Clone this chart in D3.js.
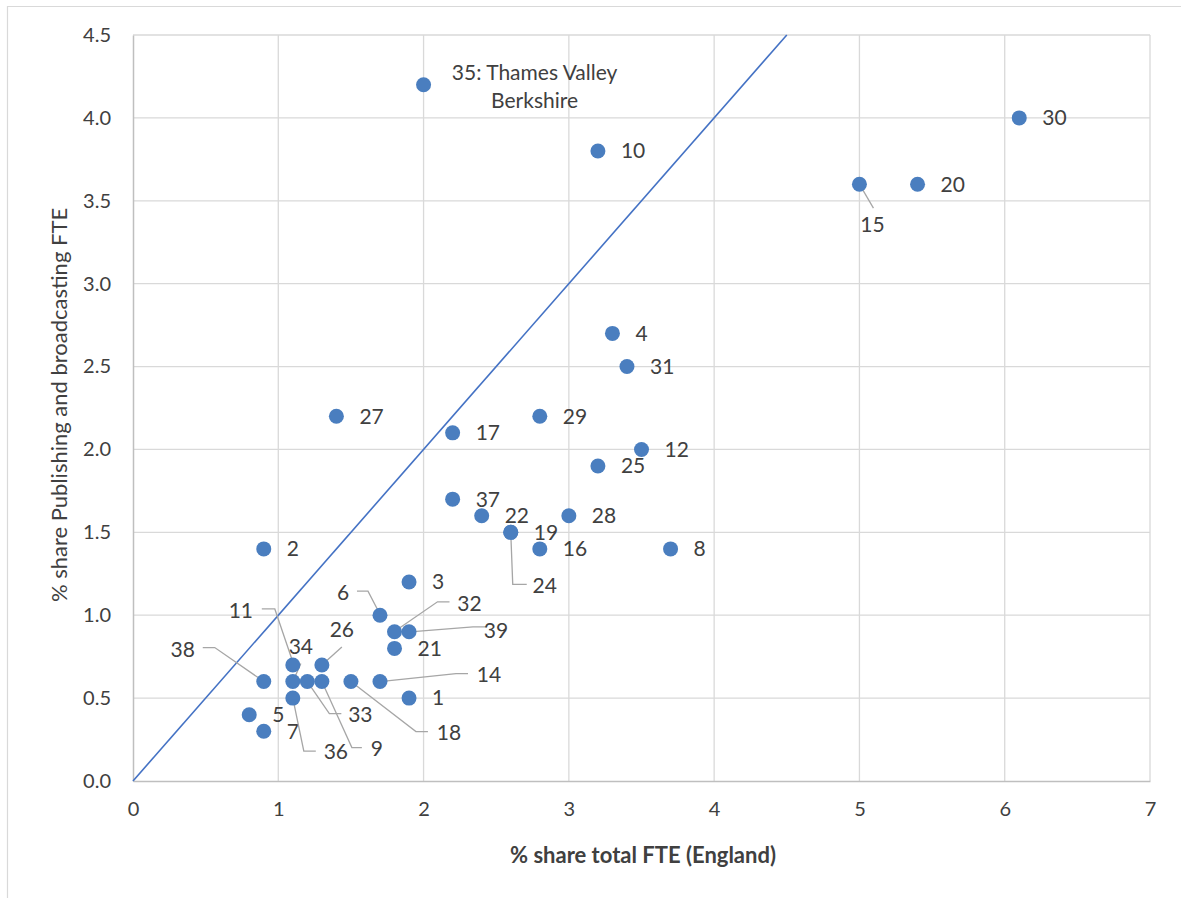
<!DOCTYPE html>
<html>
<head>
<meta charset="utf-8">
<script src="https://cdn.jsdelivr.net/npm/d3@7"></script>
<style>
  html, body { margin: 0; padding: 0; background: #fff; }
  svg { display: block; }
  text { font-family: Lato, "Open Sans", sans-serif; fill: #404040; }
</style>
</head>
<body>
<svg id="chart" width="1181" height="898"></svg>
<script>
// Region ids, share of total FTE (England) and share of publishing & broadcasting FTE
const regionIds = [1, 2, 3, 4, 5, 6, 7, 8, 9, 10, 11, 12, 14, 15, 16, 17, 18, 19, 20, 21,
                   22, 24, 25, 26, 27, 28, 29, 30, 31, 32, 33, 34, 35, 36, 37, 38, 39];
const shareTotal = [1.9, 0.9, 1.9, 3.3, 0.8, 1.7, 0.9, 3.7, 1.3, 3.2, 1.1, 3.5, 1.7, 5.0, 2.8, 2.2, 1.5, 2.6, 5.4, 1.8,
                    2.4, 2.6, 3.2, 1.3, 1.4, 3.0, 2.8, 6.1, 3.4, 1.8, 1.2, 1.1, 2.0, 1.1, 2.2, 0.9, 1.9];
const sharePublishing = [0.5, 1.4, 1.2, 2.7, 0.4, 1.0, 0.3, 1.4, 0.6, 3.8, 0.7, 2.0, 0.6, 3.6, 1.4, 2.1, 0.6, 1.5, 3.6, 0.8,
                         1.6, 1.5, 1.9, 0.7, 2.2, 1.6, 2.2, 4.0, 2.5, 0.9, 0.6, 0.6, 4.2, 0.5, 1.7, 0.6, 0.9];
const labelNames = { 35: ["35: Thames Valley", "Berkshire"] };

const xTicks = [0, 1, 2, 3, 4, 5, 6, 7];
const yTicks = [0, 0.5, 1.0, 1.5, 2.0, 2.5, 3.0, 3.5, 4.0, 4.5];
const parityLine = [[0, 0], [4.5, 4.5]];

const xTitle = "% share total FTE (England)";
const yTitle = "% share Publishing and broadcasting FTE";

const svg = d3.select("#chart");
const x = d3.scaleLinear().domain([0, 7]).range([133, 1150]);
const y = d3.scaleLinear().domain([0, 4.5]).range([781, 35]);
const labelSize = 21;

// chart frame
svg.append("path").attr("d", "M7.5,1000V6.5H1200")
  .attr("fill", "none").attr("stroke", "#d9d9d9").attr("stroke-width", 1.2);

// gridlines
const grid = svg.append("g").attr("stroke", "#d9d9d9").attr("stroke-width", 1.3);
grid.selectAll(".gx").data(xTicks.slice(1)).join("line")
  .attr("x1", d => x(d)).attr("x2", d => x(d)).attr("y1", y(0)).attr("y2", y(4.5));
grid.selectAll(".gy").data(yTicks.slice(1)).join("line")
  .attr("x1", x(0)).attr("x2", x(7)).attr("y1", d => y(d)).attr("y2", d => y(d));

// axes
const xAxis = svg.append("g").attr("transform", `translate(0,${y(0)})`)
  .call(d3.axisBottom(x).tickValues(xTicks).tickFormat(d3.format("d")).tickSize(0).tickPadding(21));
const yAxis = svg.append("g").attr("transform", `translate(${x(0)},0)`)
  .call(d3.axisLeft(y).tickValues(yTicks).tickFormat(d3.format(".1f")).tickSize(0).tickPadding(22));
[xAxis, yAxis].forEach(g => {
  g.select(".domain").attr("stroke", "#bfbfbf").attr("stroke-width", 1.5);
  g.selectAll("text").attr("font-size", 20).attr("fill", "#595959")
    .attr("font-family", "Lato, 'Open Sans', sans-serif");
});

// axis titles
svg.append("text").attr("x", 643).attr("y", 863).attr("text-anchor", "middle")
  .attr("font-size", 22).attr("font-weight", "bold").attr("fill", "#595959").text(xTitle);
svg.append("text").attr("transform", "translate(67,405) rotate(-90)").attr("text-anchor", "middle")
  .attr("font-size", 22).attr("fill", "#595959").text(yTitle);

// y = x reference line
svg.append("line")
  .attr("x1", x(parityLine[0][0])).attr("y1", y(parityLine[0][1]))
  .attr("x2", x(parityLine[1][0])).attr("y2", y(parityLine[1][1]))
  .attr("stroke", "#4472c4").attr("stroke-width", 1.6);

const pts = regionIds.map((id, i) => ({ id, x: shareTotal[i], y: sharePublishing[i] }));

// label placement for crowded points: text centre offset and leader path (pixels from the point)
const callouts = {
  11: { t: [-52, -54], path: [[-31, -56], [-18, -56], [0, -3]] },
  34: { t: [8, -35], path: [[8, -18], [1, -2]] },
  26: { t: [20, -35], path: [[20, -18], [0, 0]] },
  38: { t: [-81, -32], path: [[-61, -34], [-49, -34], [0, 0]] },
  33: { t: [53, 33], path: [[34, 32], [22, 32], [0, 0]] },
  9:  { t: [55, 67], path: [[40, 66], [30, 66], [0, 0]] },
  36: { t: [43, 54], path: [[23, 53], [11, 53], [0, 0]] },
  18: { t: [98, 51], path: [[77, 50], [65, 50], [0, 0]] },
  14: { t: [109, -7], path: [[88, -8], [76, -8], [0, 0]] },
  6:  { t: [-37, -23], path: [[-23, -24], [-12, -24], [0, -1]] },
  32: { t: [75, -28], path: [[55, -30], [43, -30], [1, -1]] },
  39: { t: [87, -1], path: [[78, -5], [64, -5], [1, 0]] },
  24: { t: [34, 53], path: [[0, 0], [2, 52], [16, 52]] },
  15: { t: [13, 40], path: [[0, 0], [14, 24]] }
};

const labels = svg.append("g");
pts.forEach(p => {
  const px = x(p.x), py = y(p.y);
  const c = callouts[p.id];
  if (c) {
    labels.append("path")
      .attr("d", d3.line()(c.path.map(([dx, dy]) => [px + dx, py + dy])))
      .attr("fill", "none").attr("stroke", "#a6a6a6").attr("stroke-width", 1.3);
    labels.append("text").attr("x", px + c.t[0]).attr("y", py + c.t[1])
      .attr("text-anchor", "middle").attr("dy", "0.35em").attr("font-size", labelSize).text(p.id);
  } else if (labelNames[p.id]) {
    labelNames[p.id].forEach((line, k) => {
      labels.append("text").attr("x", px + 111).attr("y", py - 12 + k * 28)
        .attr("text-anchor", "middle").attr("dy", "0.35em").attr("font-size", labelSize).text(line);
    });
  } else {
    labels.append("text").attr("x", px + 23).attr("y", py)
      .attr("dy", "0.35em").attr("font-size", labelSize).text(p.id);
  }
});

// markers
svg.append("g").selectAll("circle").data(pts).join("circle")
  .attr("cx", d => x(d.x)).attr("cy", d => y(d.y)).attr("r", 7.5)
  .attr("fill", "#4a7ebf");
</script>
</body>
</html>
